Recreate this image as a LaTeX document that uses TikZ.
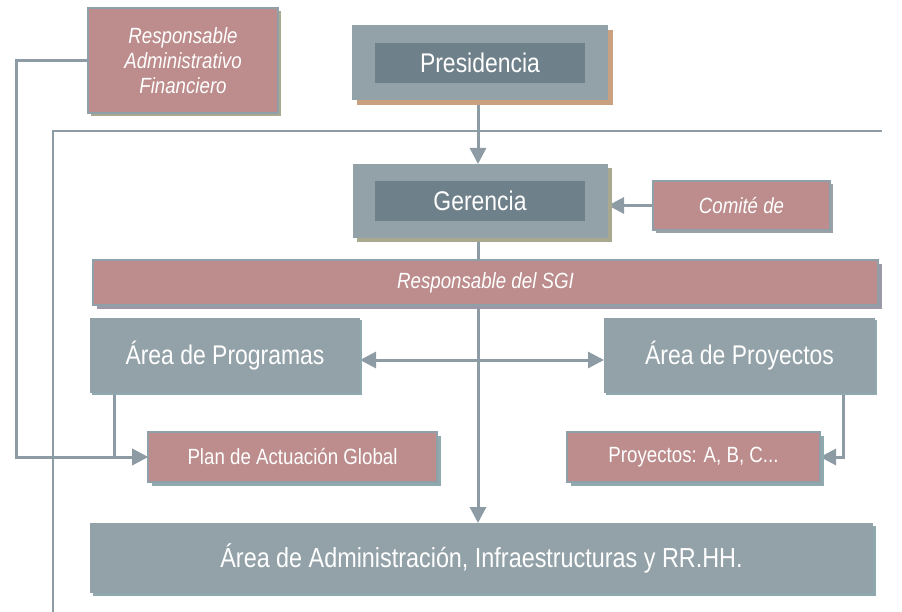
\documentclass[tikz,border=0pt]{standalone}
\usepackage{fontspec}
\setmainfont{Liberation Sans}[FakeStretch=0.85]
\usetikzlibrary{arrows.meta,shadows,backgrounds}
\definecolor{boxgray}{HTML}{93A2A8}
\definecolor{innergray}{HTML}{6E8089}
\definecolor{pinkbox}{HTML}{BD8C8C}
\definecolor{bordergray}{HTML}{8FA0A8}
\definecolor{lnc}{HTML}{8D9CA4}
\definecolor{tanshadow}{HTML}{C9A181}
\definecolor{oliveshadow}{HTML}{A8A98F}
\definecolor{purpshadow}{HTML}{9C98A8}
\definecolor{grayshadow}{HTML}{9AA2A8}
\definecolor{tealshadow}{HTML}{8FA9AE}
\tikzset{
  base/.style={rectangle, inner sep=0pt, outer sep=0pt, text=white, align=center},
  graybox/.style={base, fill=boxgray},
  innerbox/.style={base, fill=innergray, font=\fontsize{27}{30}\selectfont},
  pinkb/.style={base, fill=pinkbox, draw=bordergray, line width=2pt},
  shad/.style 2 args={drop shadow={fill=#1, opacity=1, shadow xshift=#2pt, shadow yshift=-#2pt}},
  bigtxt/.style={font=\fontsize{27}{30}\selectfont},
  smalltxt/.style={font=\fontsize{22}{25}\selectfont},
  smallit/.style={font=\fontsize{22}{25}\selectfont\itshape},
  conn/.style={draw=lnc, line width=3pt, -{Triangle[length=16pt,width=16pt]}},
  conn2/.style={draw=lnc, line width=3pt, {Triangle[length=16pt,width=16pt]}-{Triangle[length=16pt,width=16pt]}},
  framel/.style={draw=lnc, line width=2pt},
}
\begin{document}
\begin{tikzpicture}[x=1pt,y=-1pt]
\useasboundingbox (0,0) rectangle (902,612);
% nodes
\node[pinkb, shad={oliveshadow}{3}, smallit, minimum width=190pt, minimum height=105pt] (raf) at (183,60.5) {Responsable\\Administrativo\\Financiero};
\node[graybox, shad={tanshadow}{5}, minimum width=256pt, minimum height=75pt] (pres) at (480,62.5) {};
\node[innerbox, minimum width=210pt, minimum height=40pt] (presi) at (480,63) {Presidencia};
\node[graybox, shad={oliveshadow}{4}, minimum width=255pt, minimum height=74pt] (ger) at (480.5,201) {};
\node[innerbox, minimum width=210pt, minimum height=40pt] (geri) at (480,201) {Gerencia};
\node[pinkb, shad={grayshadow}{3}, smallit, minimum width=177pt, minimum height=49pt] (com) at (741.5,205.5) {Comité de};
\node[pinkb, shad={purpshadow}{4}, smallit, minimum width=785pt, minimum height=45pt] (sgi) at (485.5,282.5) {Responsable del SGI};
\node[graybox, shad={tealshadow}{2}, bigtxt, minimum width=270pt, minimum height=75pt] (prog) at (225,355.5) {Área de Programas};
\node[graybox, shad={tealshadow}{2}, bigtxt, minimum width=271pt, minimum height=75pt] (proy) at (739.5,355.5) {Área de Proyectos};
\node[pinkb, shad={tealshadow}{4}, smalltxt, minimum width=289pt, minimum height=50pt] (plan) at (292.5,457) {Plan de Actuación Global};
\node[pinkb, shad={tealshadow}{4}, smalltxt, minimum width=253pt, minimum height=50pt] (pabc) at (693.5,457) {Proyectos: A, B, C...};
\node[graybox, shad={tealshadow}{3}, font=\fontsize{27.5}{30}\selectfont, minimum width=783pt, minimum height=70pt] (adm) at (481.5,558) {Área de Administración, Infraestructuras y RR.HH.};
% helper coordinates
\coordinate (lc) at (16,0);
\coordinate (f1) at (882,131);
\coordinate (f2) at (53,131);
\coordinate (f3) at (53,612);
\coordinate (cx) at (478,0);
\begin{pgfonlayer}{background}
\draw[framel] (f1) -- (f2) -- (f3);
\draw[conn] (raf.west) -- (raf.west -| lc) -- (lc |- plan.west) -- (plan.west);
\draw[conn] ([xshift=24pt]prog.south west) |- (plan.west);
\draw[conn] ([xshift=-32pt]proy.south east) |- (pabc.east);
\draw[conn] (pres.south -| cx) -- (ger.north -| cx);
\draw[conn] (com.west) -- (com.west -| ger.east);
\draw[conn] (ger.south -| cx) -- (adm.north -| cx);
\draw[conn2] ([yshift=-4.5pt]prog.east) -- ([yshift=-4.5pt]prog.east -| proy.west);
\end{pgfonlayer}
\end{tikzpicture}
\end{document}
